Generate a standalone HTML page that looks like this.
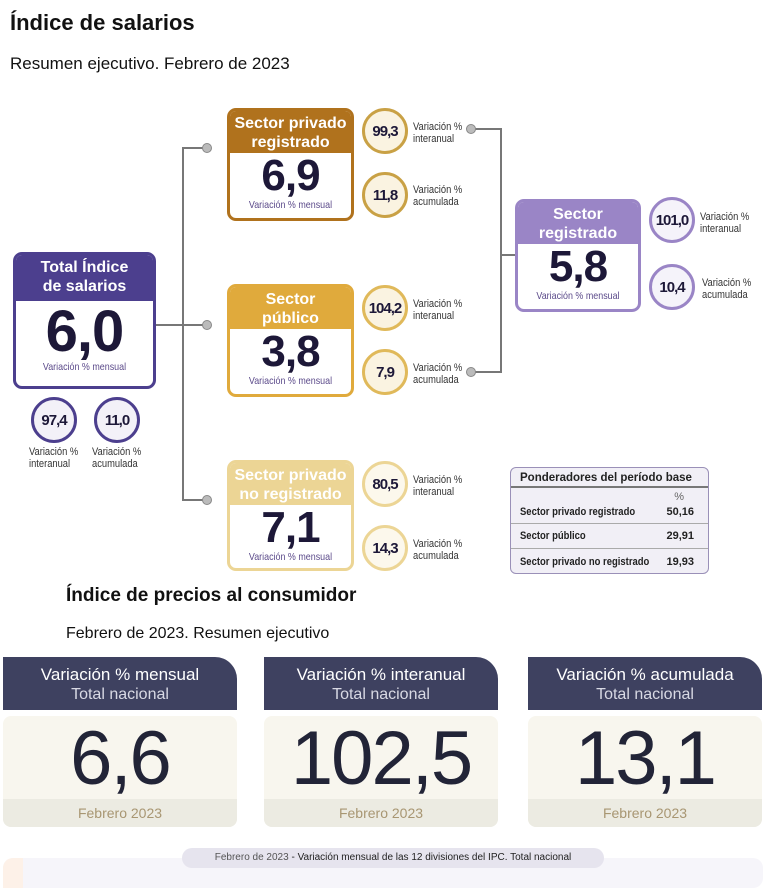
<!DOCTYPE html>
<html><head><meta charset="utf-8">
<style>
*{box-sizing:border-box;margin:0;padding:0}
body{width:770px;height:883px;background:#fff;font-family:"Liberation Sans",sans-serif;position:relative;overflow:hidden;color:#1e1a3a}
.a{position:absolute}
.box{position:absolute;border:3px solid;border-radius:9px;background:#fff;overflow:hidden;text-align:center}
.box .h{color:#fff;font-weight:bold;line-height:19px;padding-top:3px}
.box .v{font-weight:bold;color:#1d1838;letter-spacing:-1px}
.box .s{font-size:10.5px;color:#5b4a8a;transform:scaleX(.85)}
.c{position:absolute;border-radius:50%;border:3px solid;background:#faf3e1;display:flex;align-items:center;justify-content:center;font-weight:bold;font-size:15px;color:#1d1838;letter-spacing:-1px}
.l{position:absolute;font-size:11px;line-height:12px;color:#333;transform:scaleX(.85);transform-origin:left top}
.ln{position:absolute;background:#777}
.dot{position:absolute;width:10px;height:10px;border-radius:50%;background:#bbb;border:1.5px solid #888}
.card{position:absolute;width:234px;top:657px;height:170px}
.card .hd{height:53px;background:#3e4160;border-radius:0 22px 0 0;color:#fff;text-align:center;font-size:17px;line-height:20px;padding-top:8px}
.card .hd span{display:block;color:#d8d9e4;font-size:16px}
.card .bd{position:absolute;top:59px;width:234px;height:111px;background:#f8f6ee;border-radius:8px;overflow:hidden;text-align:center}
.card .val{font-size:76px;color:#222437;line-height:78px;padding-top:4px;letter-spacing:-2px}
.card .ft{position:absolute;bottom:0;width:100%;height:28px;background:#ecebe2;color:#a89672;font-size:14px;line-height:28px}
.tl{position:absolute;left:9px;transform:scaleX(.86);transform-origin:left top;white-space:nowrap}
</style></head><body>
<div class="a" style="left:10px;top:10px;font-size:22px;font-weight:bold;color:#111">Índice de salarios</div>
<div class="a" style="left:10px;top:54px;font-size:17px;color:#111">Resumen ejecutivo. Febrero de 2023</div>

<div class="ln" style="left:155px;top:324px;width:28px;height:2px"></div>
<div class="ln" style="left:182px;top:148px;width:2px;height:353px"></div>
<div class="ln" style="left:182px;top:147px;width:22px;height:2px"></div>
<div class="ln" style="left:182px;top:324px;width:22px;height:2px"></div>
<div class="ln" style="left:182px;top:499px;width:22px;height:2px"></div>
<div class="dot" style="left:202px;top:143px"></div>
<div class="dot" style="left:202px;top:320px"></div>
<div class="dot" style="left:202px;top:495px"></div>
<div class="ln" style="left:473px;top:128px;width:28px;height:2px"></div>
<div class="ln" style="left:473px;top:371px;width:28px;height:2px"></div>
<div class="ln" style="left:500px;top:128px;width:2px;height:245px"></div>
<div class="ln" style="left:500px;top:254px;width:16px;height:2px"></div>
<div class="dot" style="left:466px;top:124px"></div>
<div class="dot" style="left:466px;top:367px"></div>

<div class="box" style="left:13px;top:252px;width:143px;height:137px;border-color:#4c3f8e">
 <div class="h" style="background:#4c3f8e;height:46px;font-size:16px">Total Índice<br>de salarios</div>
 <div class="v" style="font-size:58px;line-height:58px;margin-top:2px">6,0</div>
 <div class="s">Variación % mensual</div>
</div>
<div class="c" style="left:31px;top:397px;width:46px;height:46px;border-color:#4c3f8e;background:#f3f1f8">97,4</div>
<div class="c" style="left:94px;top:397px;width:46px;height:46px;border-color:#4c3f8e;background:#f3f1f8">11,0</div>
<div class="l" style="left:29px;top:446px">Variación %<br>interanual</div>
<div class="l" style="left:92px;top:446px">Variación %<br>acumulada</div>

<div class="box" style="left:227px;top:108px;width:127px;height:113px;border-color:#b0721d">
 <div class="h" style="background:#b0721d;height:42px;font-size:16px">Sector privado<br>registrado</div>
 <div class="v" style="font-size:44px;line-height:46px">6,9</div>
 <div class="s">Variación % mensual</div>
</div>
<div class="c" style="left:362px;top:108px;width:46px;height:46px;border-color:#c9a145">99,3</div>
<div class="c" style="left:362px;top:172px;width:46px;height:46px;border-color:#c9a145">11,8</div>
<div class="l" style="left:413px;top:121px">Variación %<br>interanual</div>
<div class="l" style="left:413px;top:184px">Variación %<br>acumulada</div>

<div class="box" style="left:227px;top:284px;width:127px;height:113px;border-color:#e0aa3c">
 <div class="h" style="background:#e0aa3c;height:42px;font-size:16px">Sector<br>público</div>
 <div class="v" style="font-size:44px;line-height:46px">3,8</div>
 <div class="s">Variación % mensual</div>
</div>
<div class="c" style="left:362px;top:285px;width:46px;height:46px;border-color:#e0b95a">104,2</div>
<div class="c" style="left:362px;top:349px;width:46px;height:46px;border-color:#e0b95a">7,9</div>
<div class="l" style="left:413px;top:298px">Variación %<br>interanual</div>
<div class="l" style="left:413px;top:362px">Variación %<br>acumulada</div>

<div class="box" style="left:227px;top:460px;width:127px;height:111px;border-color:#ecd595">
 <div class="h" style="background:#ecd595;height:42px;font-size:16px">Sector privado<br>no registrado</div>
 <div class="v" style="font-size:44px;line-height:46px">7,1</div>
 <div class="s">Variación % mensual</div>
</div>
<div class="c" style="left:362px;top:461px;width:46px;height:46px;border-color:#ecd595;background:#fcf8ec">80,5</div>
<div class="c" style="left:362px;top:525px;width:46px;height:46px;border-color:#ecd595;background:#fcf8ec">14,3</div>
<div class="l" style="left:413px;top:474px">Variación %<br>interanual</div>
<div class="l" style="left:413px;top:538px">Variación %<br>acumulada</div>

<div class="box" style="left:515px;top:199px;width:126px;height:113px;border-color:#9a85c6">
 <div class="h" style="background:#9a85c6;height:42px;font-size:16px">Sector<br>registrado</div>
 <div class="v" style="font-size:44px;line-height:46px">5,8</div>
 <div class="s">Variación % mensual</div>
</div>
<div class="c" style="left:649px;top:197px;width:46px;height:46px;border-color:#9a85c6;background:#f5f3fa">101,0</div>
<div class="c" style="left:649px;top:264px;width:46px;height:46px;border-color:#9a85c6;background:#f5f3fa">10,4</div>
<div class="l" style="left:700px;top:211px">Variación %<br>interanual</div>
<div class="l" style="left:702px;top:277px">Variación %<br>acumulada</div>

<div class="a" style="left:510px;top:467px;width:199px;height:107px;border:1.5px solid #9a90b8;border-radius:6px;background:#f1eff6;overflow:hidden;font-size:11px;font-weight:bold;color:#222">
 <div style="height:20px;line-height:20px;padding-left:9px;border-bottom:2px solid #777;font-size:11.5px">Ponderadores del período base</div>
 <div style="height:36px;border-bottom:1px solid #aaa;position:relative"><span class="a" style="right:24px;top:3px;font-weight:normal;color:#666">%</span><span class="tl" style="top:18px">Sector privado registrado</span><span class="a" style="right:14px;top:18px">50,16</span></div>
 <div style="height:25px;border-bottom:1px solid #aaa;position:relative"><span class="tl" style="top:6px">Sector público</span><span class="a" style="right:14px;top:6px">29,91</span></div>
 <div style="height:25px;position:relative"><span class="tl" style="top:7px">Sector privado no registrado</span><span class="a" style="right:14px;top:7px">19,93</span></div>
</div>

<div class="a" style="left:66px;top:585px;font-size:19px;font-weight:bold;color:#111">Índice de precios al consumidor</div>
<div class="a" style="left:66px;top:625px;font-size:16px;color:#111">Febrero de 2023. Resumen ejecutivo</div>

<div class="card" style="left:3px"><div class="hd">Variación % mensual<span>Total nacional</span></div><div class="bd"><div class="val">6,6</div><div class="ft">Febrero 2023</div></div></div>
<div class="card" style="left:264px"><div class="hd">Variación % interanual<span>Total nacional</span></div><div class="bd"><div class="val">102,5</div><div class="ft">Febrero 2023</div></div></div>
<div class="card" style="left:528px"><div class="hd">Variación % acumulada<span>Total nacional</span></div><div class="bd"><div class="val">13,1</div><div class="ft">Febrero 2023</div></div></div>

<div class="a" style="left:3px;top:858px;width:760px;height:30px;background:#f6f5fa;border-radius:10px"></div>
<div class="a" style="left:3px;top:858px;width:20px;height:30px;background:#fdf1e8;border-radius:10px 0 0 0"></div>
<div class="a" style="left:182px;top:848px;width:422px;height:20px;background:#e6e4ee;border-radius:10px;font-size:10px;line-height:20px;text-align:center;color:#222"><span style="color:#555">Febrero de 2023</span> - Variación mensual de las 12 divisiones del IPC. Total nacional</div>
</body></html>
